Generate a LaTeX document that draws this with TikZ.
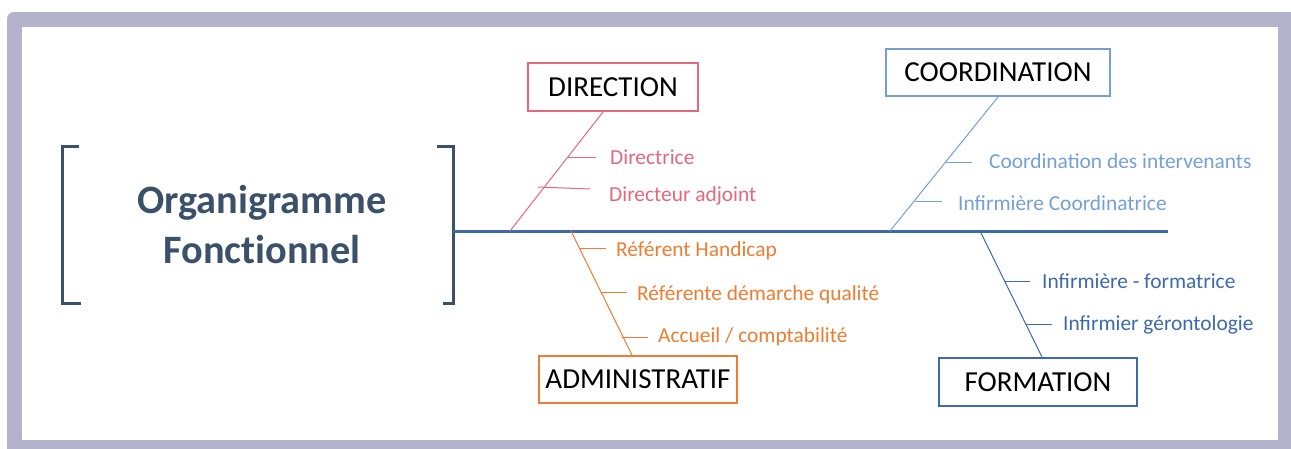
\documentclass[tikz,border=0pt]{standalone}
\usepackage{fontspec}
\setmainfont{Carlito}
\definecolor{frame}{HTML}{B5B2CB}
\definecolor{titlec}{HTML}{3B5169}
\definecolor{spinec}{HTML}{3F6BA5}
\definecolor{dirc}{HTML}{E4677B}
\definecolor{admc}{HTML}{ED7D31}
\definecolor{cooc}{HTML}{74A0D6}
\definecolor{forc}{HTML}{3D6AAD}
\tikzset{
  catbox/.style={draw, line width=2pt, fill=white, inner sep=0pt, text=black,
    font=\fontsize{29}{34}\selectfont},
  sublabel/.style={anchor=west, inner sep=0pt, font=\fontsize{21.4}{25}\selectfont},
  bone/.style={line width=1pt},
  tick/.style={line width=1pt},
  titletext/.style={anchor=base, inner sep=0pt, text=titlec, font=\fontsize{40.3}{46}\selectfont\bfseries},
  bracket/.style={draw=titlec, line width=3pt}
}
\begin{document}
\begin{tikzpicture}[x=1pt,y=-1pt]
\useasboundingbox (0,0) rectangle (1291,448);
% frame
\fill[frame, rounded corners=7pt] (7,12) rectangle (1300,460);
\fill[white] (22,27) rectangle (1278,440);
% title
\node[titletext] (title1) at (262,213) {Organigramme};
\node[titletext] (title2) at (262,263) {Fonct\kern0pt ionnel};
\draw[bracket] (79,146) -- (62,146) -- (62,303) -- (81,303);
\draw[bracket] (437,146) -- (453,146) -- (453,303) -- (443,303);
% spine
\coordinate (spineL) at (453,231);
\coordinate (spineR) at (1168,231);
\draw[spinec, line width=3pt] (spineL) -- (spineR);
% boxes
\node[catbox, draw=dirc, minimum width=170pt, minimum height=48pt] (dir) at (613,87) {DIRECTION};
\node[catbox, draw=admc, minimum width=198pt, minimum height=47pt] (adm) at (638,379.5) {ADMINISTRATIF};
\node[catbox, draw=cooc, minimum width=224pt, minimum height=47pt] (coo) at (998,72.5) {COORDINATION};
\node[catbox, draw=forc, minimum width=198pt, minimum height=48pt] (for) at (1038,382) {FORMATION};
% bones
\coordinate (dirA) at (603,112);
\coordinate (dirB) at (510,231);
\draw[bone, dirc] (dirA) -- (dirB);
\coordinate (admA) at (571,231);
\coordinate (admB) at (632,355);
\draw[bone, admc] (admA) -- (admB);
\coordinate (cooA) at (998,97);
\coordinate (cooB) at (890,231);
\draw[bone, cooc] (cooA) -- (cooB);
\coordinate (forA) at (980,231);
\coordinate (forB) at (1042,357);
\draw[bone, forc] (forA) -- (forB);
% direction labels
\node[sublabel, text=dirc] (d1) at (610,157) {Directrice};
\node[sublabel, text=dirc] (d2) at (609,196) {Directeur adjoint};
\coordinate (d1a) at (568,157); \coordinate (d1b) at (596,157);
\coordinate (d2a) at (538,187); \coordinate (d2b) at (590,189);
\draw[tick, dirc] (d1a) -- (d1b);
\draw[tick, dirc] (d2a) -- (d2b);
% admin labels
\node[sublabel, text=admc] (a1) at (616,251) {Référent Handicap};
\node[sublabel, text=admc] (a2) at (637,295) {Référente démarche qualité};
\node[sublabel, text=admc] (a3) at (658,337) {Accueil / comptabilité};
\coordinate (a1a) at (579,248); \coordinate (a1b) at (606,248);
\coordinate (a2a) at (601,292); \coordinate (a2b) at (627,292);
\coordinate (a3a) at (622,337); \coordinate (a3b) at (648,337);
\draw[tick, admc] (a1a) -- (a1b);
\draw[tick, admc] (a2a) -- (a2b);
\draw[tick, admc] (a3a) -- (a3b);
% coordination labels
\node[sublabel, text=cooc] (c1) at (989,161) {Coordination des intervenants};
\node[sublabel, text=cooc] (c2) at (958,203) {Infirmière Coordinatrice};
\coordinate (c1a) at (946,162); \coordinate (c1b) at (972,162);
\coordinate (c2a) at (915,201); \coordinate (c2b) at (942,201);
\draw[tick, cooc] (c1a) -- (c1b);
\draw[tick, cooc] (c2a) -- (c2b);
% formation labels
\node[sublabel, text=forc] (f1) at (1042,281) {Infirmière - formatrice};
\node[sublabel, text=forc] (f2) at (1063,325) {Infirmier gérontologie};
\coordinate (f1a) at (1004,281); \coordinate (f1b) at (1030,281);
\coordinate (f2a) at (1026,324); \coordinate (f2b) at (1052,324);
\draw[tick, forc] (f1a) -- (f1b);
\draw[tick, forc] (f2a) -- (f2b);
\end{tikzpicture}
\end{document}
